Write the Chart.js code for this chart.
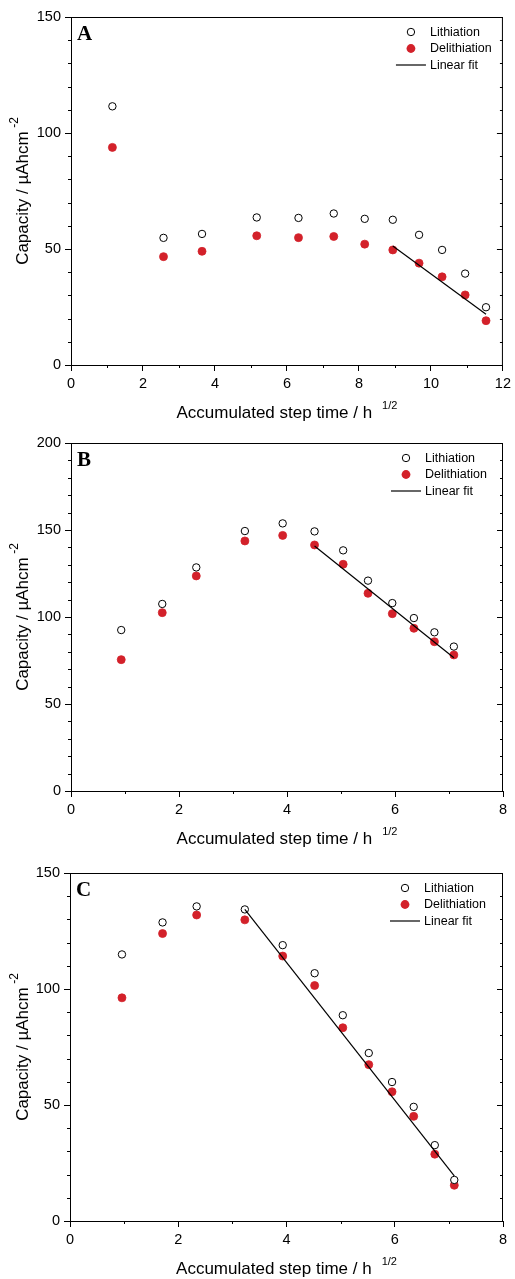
<!DOCTYPE html>
<html>
<head>
<meta charset="utf-8">
<script src="https://cdn.jsdelivr.net/npm/chart.js@4.4.1/dist/chart.umd.min.js"></script>
<style>
  html, body { margin: 0; padding: 0; background: #fff; }
  body { width: 515px; height: 1279px; position: relative; overflow: hidden; }
  canvas { position: absolute; left: 0; display: block; }
</style>
</head>
<body>
<canvas id="chart-a" width="515" height="425" style="top:0"></canvas>
<canvas id="chart-b" width="515" height="425" style="top:425px"></canvas>
<canvas id="chart-c" width="515" height="423" style="top:856px"></canvas>
<script>
// panel A
const timeA   = [1.15, 2.57, 3.64, 5.16, 6.32, 7.30, 8.16, 8.94, 9.67, 10.31, 10.95, 11.53];
const lithA   = [111.5, 54.8, 56.5, 63.6, 63.4, 65.3, 63.0, 62.6, 56.1, 49.6, 39.4, 24.9];
const delithA = [93.8, 46.7, 49.0, 55.7, 54.9, 55.4, 52.1, 49.6, 43.9, 38.0, 30.2, 19.1];
const fitTimeA = [8.94, 11.53];
const fitCapA  = [51.3, 21.9];

// panel B
const timeB   = [0.93, 1.69, 2.32, 3.22, 3.92, 4.51, 5.04, 5.50, 5.95, 6.35, 6.73, 7.09];
const lithB   = [92.5, 107.5, 128.5, 149.4, 153.8, 149.2, 138.3, 120.9, 108.0, 99.4, 91.2, 83.0];
const delithB = [75.5, 102.5, 123.6, 143.7, 146.9, 141.4, 130.3, 113.6, 101.9, 93.5, 85.8, 78.2];
const fitTimeB = [4.51, 7.09];
const fitCapB  = [140.8, 76.6];

// panel C
const timeC   = [0.96, 1.71, 2.34, 3.23, 3.93, 4.52, 5.04, 5.52, 5.95, 6.35, 6.74, 7.10];
const lithC   = [114.9, 128.7, 135.6, 134.3, 118.9, 106.8, 88.7, 72.4, 59.9, 49.2, 32.7, 17.7];
const delithC = [96.2, 123.9, 131.9, 129.8, 114.2, 101.5, 83.3, 67.4, 55.7, 45.1, 28.8, 15.4];
const fitTimeC = [3.23, 7.10];
const fitCapC  = [134.3, 19.4];

const LEGEND_LABELS = ['Lithiation', 'Delithiation', 'Linear fit'];
const X_TITLE = 'Accumulated step time / h';
const X_SUP   = '1/2';
const Y_TITLE = 'Capacity / µAhcm';
const Y_SUP   = '-2';

const RED  = '#d3212a';
const SANS = "'Liberation Sans', Arial, sans-serif";
const SERIF = "'Liberation Serif', 'Times New Roman', serif";

const pts = (xs, ys) => xs.map((x, i) => ({ x, y: ys[i] }));

// frame, minor ticks, legend, letter and titles with superscripts
const decorations = {
  id: 'decorations',
  afterDraw(chart, args, o) {
    const { ctx, chartArea: a, scales: { x, y } } = chart;
    ctx.save();
    ctx.strokeStyle = '#000';
    ctx.lineWidth = 1;
    ctx.beginPath();
    ctx.moveTo(a.left, a.top + 0.5);  ctx.lineTo(a.right, a.top + 0.5);
    ctx.moveTo(a.right - 0.5, a.top); ctx.lineTo(a.right - 0.5, a.bottom);
    for (let v = y.min; v <= y.max + 1e-6; v += o.yMinor) {
      const py = Math.round(y.getPixelForValue(v)) + 0.5;
      const major = Math.abs(v % o.yMajor) < 1e-6;
      ctx.moveTo(a.right, py); ctx.lineTo(a.right - (major ? 6 : 3), py);
      if (!major) { ctx.moveTo(a.left, py); ctx.lineTo(a.left - 3, py); }
    }
    for (let v = x.min + o.xMinor; v < x.max; v += o.xMajor) {
      const px = Math.round(x.getPixelForValue(v)) + 0.5;
      ctx.moveTo(px, a.bottom); ctx.lineTo(px, a.bottom + 3);
    }
    ctx.stroke();

    // legend
    const mx = a.right - o.legendRight, tx = mx + 19;
    const rows = [a.top + 15, a.top + 31.5, a.top + 48];
    ctx.font = `12.5px ${SANS}`;
    ctx.fillStyle = '#000';
    ctx.textBaseline = 'middle';
    ctx.textAlign = 'left';
    ctx.beginPath();
    ctx.arc(mx, rows[0], 3.7, 0, Math.PI * 2);
    ctx.fillStyle = '#fff'; ctx.fill(); ctx.stroke();
    ctx.beginPath();
    ctx.arc(mx, rows[1], 4.4, 0, Math.PI * 2);
    ctx.fillStyle = RED; ctx.fill();
    ctx.beginPath();
    ctx.lineWidth = 1.2;
    ctx.moveTo(mx - 15, rows[2]); ctx.lineTo(mx + 15, rows[2]);
    ctx.stroke();
    ctx.fillStyle = '#000';
    LEGEND_LABELS.forEach((t, i) => ctx.fillText(t, tx, rows[i] + 0.5));

    // panel letter
    ctx.font = `bold 21px ${SERIF}`;
    ctx.textBaseline = 'alphabetic';
    ctx.fillText(o.letter, a.left + 6, a.top + 23);

    // x title
    const cx = (a.left + a.right) / 2;
    ctx.font = `17px ${SANS}`;
    const wx = ctx.measureText(X_TITLE).width;
    ctx.font = `11px ${SANS}`;
    const wxs = ctx.measureText(X_SUP).width;
    const x0 = cx - (wx + 10 + wxs) / 2;
    const by = a.bottom + 52.5;
    ctx.font = `17px ${SANS}`;
    ctx.fillText(X_TITLE, x0, by);
    ctx.font = `11px ${SANS}`;
    ctx.fillText(X_SUP, x0 + wx + 10, by - 9);

    // y title
    ctx.translate(27.5, (a.top + a.bottom) / 2);
    ctx.rotate(-Math.PI / 2);
    ctx.font = `17px ${SANS}`;
    const wy = ctx.measureText(Y_TITLE).width;
    ctx.font = `12px ${SANS}`;
    const wys = ctx.measureText(Y_SUP).width;
    const y0 = -(wy + 3.5 + wys) / 2;
    ctx.font = `17px ${SANS}`;
    ctx.fillText(Y_TITLE, y0, 0);
    ctx.font = `12px ${SANS}`;
    ctx.fillText(Y_SUP, y0 + wy + 3.5, -10);
    ctx.restore();
  }
};

function buildPanel(id, p) {
  const canvas = document.getElementById(id);
  const H = canvas.height;
  const tickFont = { family: SANS, size: 14.5 };
  return new Chart(canvas.getContext('2d'), {
    type: 'scatter',
    data: {
      datasets: [
        {
          label: 'Linear fit',
          data: pts(p.fitX, p.fitY),
          showLine: true,
          borderColor: '#000',
          borderWidth: 1.2,
          pointRadius: 0,
        },
        {
          label: 'Lithiation',
          data: pts(p.x, p.lith),
          pointRadius: 3.7,
          borderWidth: 1,
          borderColor: '#000',
          backgroundColor: '#fff',
        },
        {
          label: 'Delithiation',
          data: pts(p.x, p.delith),
          pointRadius: 4,
          borderWidth: 0.8,
          borderColor: RED,
          backgroundColor: RED,
        },
      ],
    },
    options: {
      responsive: false,
      animation: false,
      events: [],
      layout: { padding: { top: p.top, right: 515 - p.right, left: 0, bottom: 0 } },
      plugins: {
        legend: { display: false },
        tooltip: { enabled: false },
        decorations: { letter: p.letter, legendRight: p.legendRight, yMajor: p.yStep, yMinor: 10, xMajor: 2, xMinor: 1 },
      },
      scales: {
        x: {
          type: 'linear', min: 0, max: p.xMax,
          afterFit: s => { s.height = H - p.bottom; },
          border: { display: true, color: '#000', width: 1 },
          grid: { drawOnChartArea: false, drawTicks: true, tickLength: 6, color: '#000' },
          ticks: { stepSize: 2, font: tickFont, color: '#000', padding: 4, maxRotation: 0 },
        },
        y: {
          type: 'linear', min: 0, max: p.yMax,
          afterFit: s => { s.width = p.left; },
          border: { display: true, color: '#000', width: 1 },
          grid: { drawOnChartArea: false, drawTicks: true, tickLength: 6, color: '#000' },
          ticks: { stepSize: p.yStep, font: tickFont, color: '#000', padding: 4 },
        },
      },
    },
    plugins: [decorations],
  });
}

buildPanel('chart-a', { letter: 'A', x: timeA, lith: lithA, delith: delithA, fitX: fitTimeA, fitY: fitCapA,
  xMax: 12, yMax: 150, yStep: 50, left: 71, right: 504, top: 17, bottom: 365, legendRight: 92 });
buildPanel('chart-b', { letter: 'B', x: timeB, lith: lithB, delith: delithB, fitX: fitTimeB, fitY: fitCapB,
  xMax: 8, yMax: 200, yStep: 50, left: 71, right: 503, top: 18, bottom: 366, legendRight: 97 });
buildPanel('chart-c', { letter: 'C', x: timeC, lith: lithC, delith: delithC, fitX: fitTimeC, fitY: fitCapC,
  xMax: 8, yMax: 150, yStep: 50, left: 70, right: 503, top: 17, bottom: 365, legendRight: 98 });
</script>
</body>
</html>
